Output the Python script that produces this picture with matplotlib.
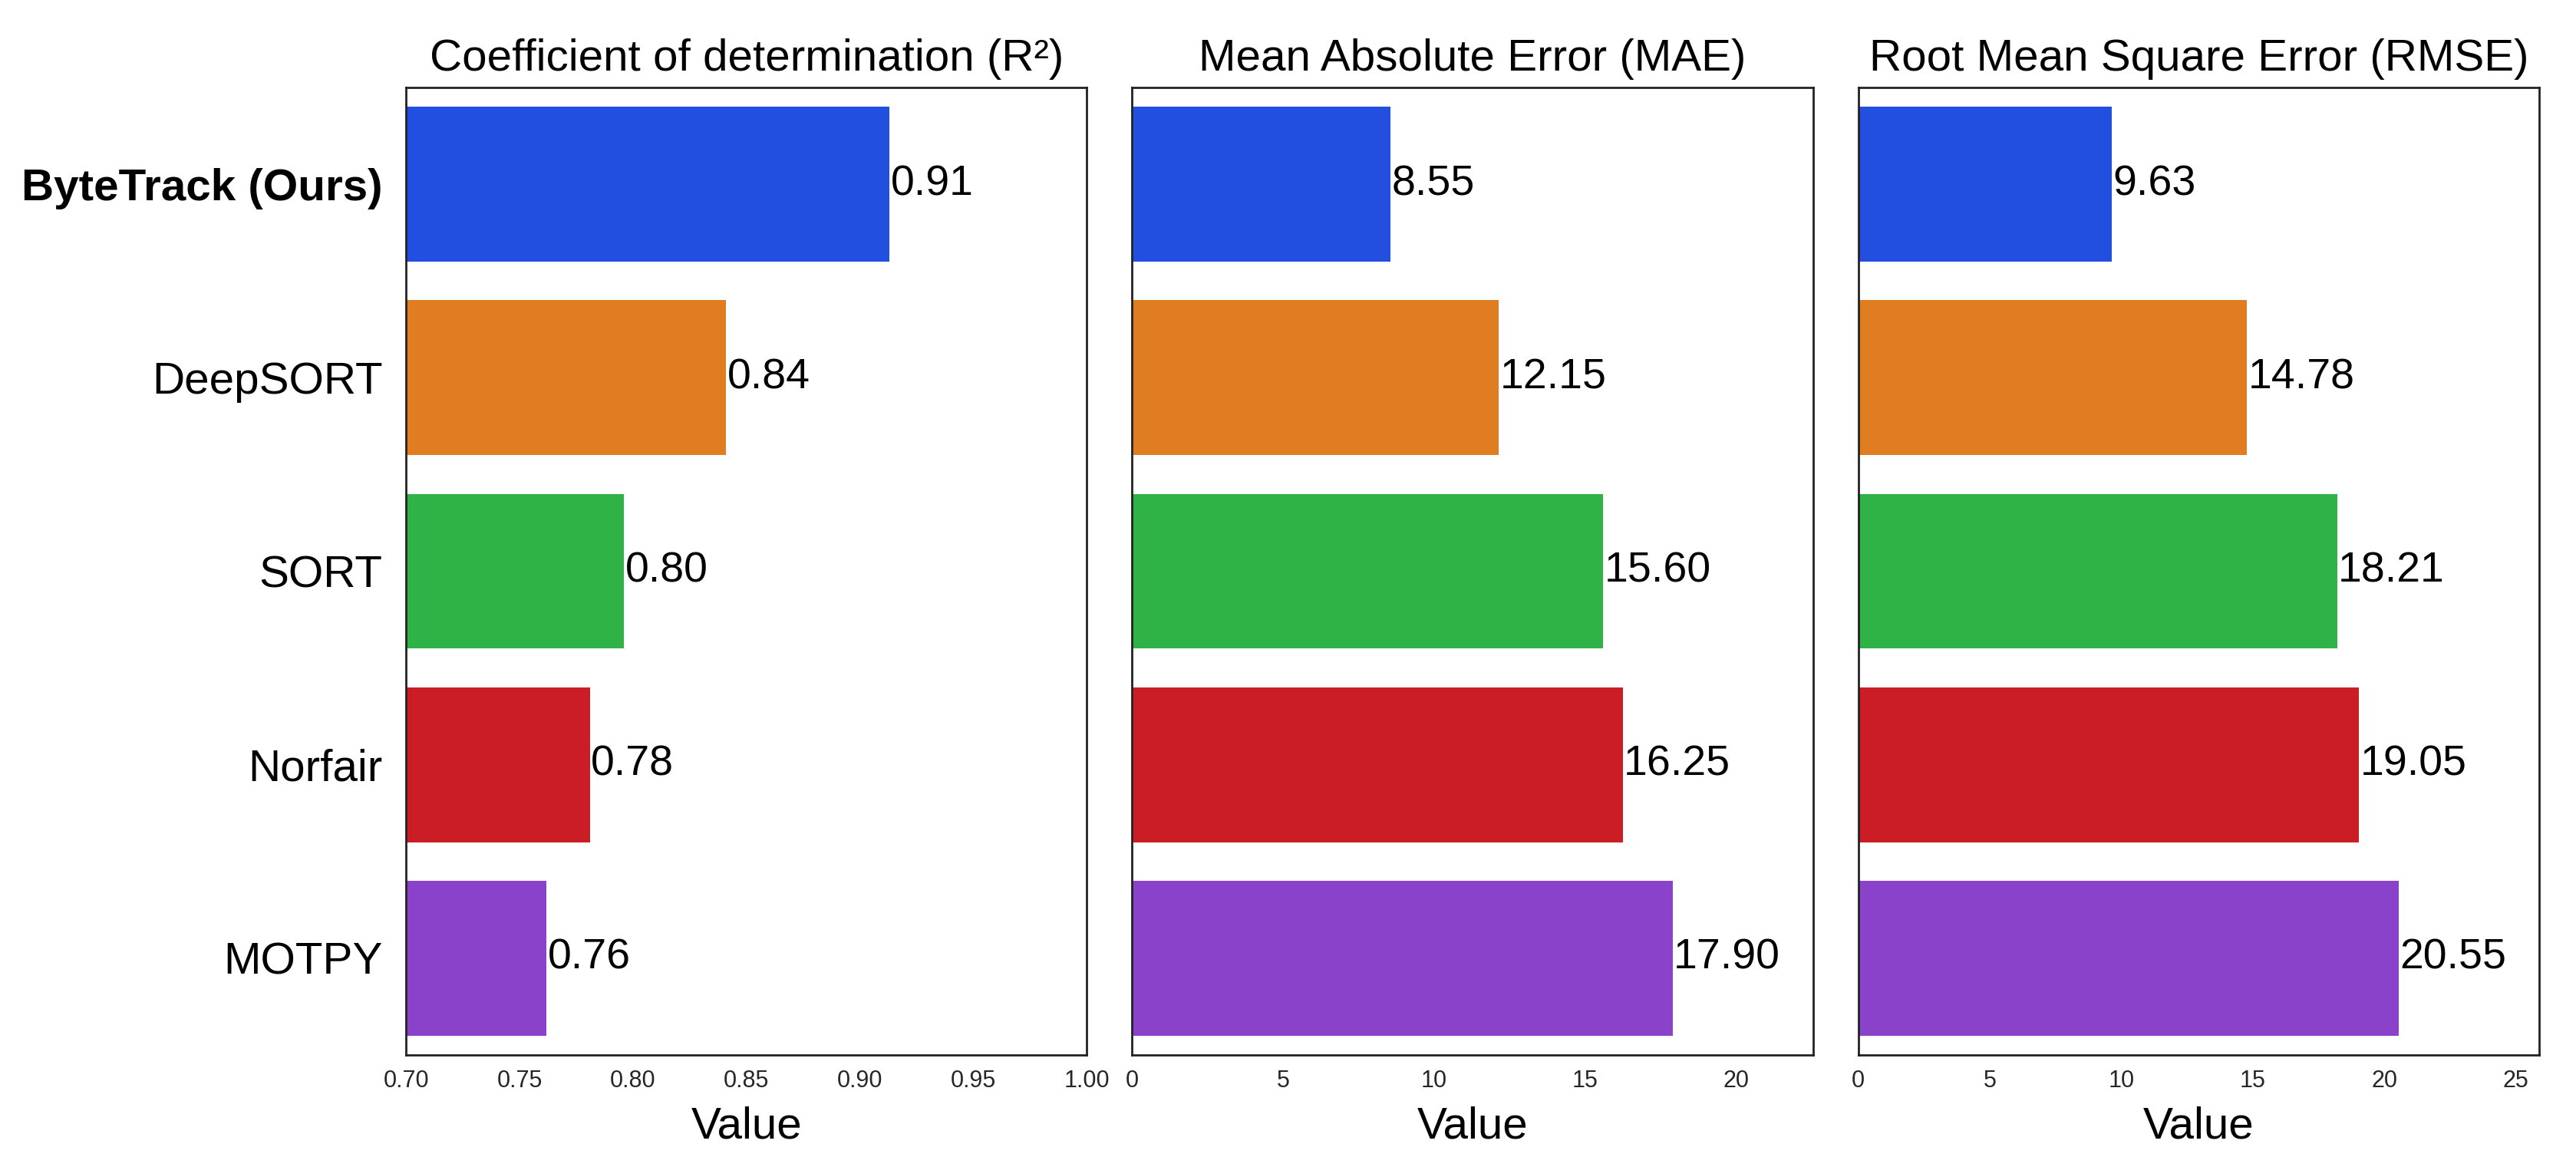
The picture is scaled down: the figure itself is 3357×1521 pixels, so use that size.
import matplotlib
matplotlib.use("Agg")
import matplotlib.pyplot as plt
import seaborn as sns
import numpy as np

# trackers and scores
trackers = ['ByteTrack (Ours)', 'DeepSORT', 'SORT', 'Norfair', 'MOTPY']
r2 = [0.913, 0.841, 0.796, 0.781, 0.762]
mae = [8.55, 12.15, 15.60, 16.25, 17.90]
rmse = [9.63, 14.78, 18.21, 19.05, 20.55]

titles = ['Coefficient of determination (R\u00b2)',
          'Mean Absolute Error (MAE)',
          'Root Mean Square Error (RMSE)']
r2_ticks = [0.70, 0.75, 0.80, 0.85, 0.90, 0.95, 1.00]

plt.rcParams['font.family'] = ['Liberation Sans', 'DejaVu Sans']

colors = [sns.desaturate(c, 0.75) for c in sns.color_palette('bright', 5)]

fig, axes = plt.subplots(1, 3, figsize=(3357 / 200, 1521 / 200), dpi=200)
fig.subplots_adjust(left=0.1576, right=0.9857, top=0.925, bottom=0.096,
                    wspace=0.0665)

data = [r2, mae, rmse]
ypos = np.arange(len(trackers))

for k, (ax, vals, title) in enumerate(zip(axes, data, titles)):
    ax.barh(ypos, vals, height=0.8, color=colors)
    for y, v in zip(ypos, vals):
        ax.annotate(f'{v:.2f}', (v, y), xytext=(0.5, 0), textcoords='offset points',
                    ha='left', va='center', fontsize=20, color='black')
    ax.set_ylim(len(trackers) - 0.5, -0.5)
    if k == 0:
        ax.set_xlim(0.70, 1.00)
        ax.set_xticks(r2_ticks)
        ax.set_xticklabels([f'{t:.2f}' for t in r2_ticks])
        ax.set_yticks(ypos)
        ax.set_yticklabels(trackers, fontsize=21)
        ax.get_yticklabels()[0].set_fontweight('bold')
    else:
        ax.set_xlim(0, max(vals) * 1.26)
        ax.set_yticks([])
    ax.set_title(title, fontsize=21, pad=8)
    ax.set_xlabel('Value', fontsize=21, labelpad=6)
    ax.tick_params(axis='x', length=0, pad=7, labelsize=11, labelcolor='#262626')
    ax.tick_params(axis='y', length=0, pad=11)
    for s in ax.spines.values():
        s.set_color('#222222')
        s.set_linewidth(1.0)

plt.savefig('out.png', dpi=200)
